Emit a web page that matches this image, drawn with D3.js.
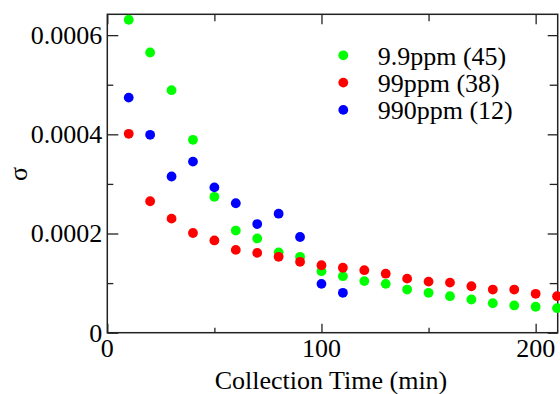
<!DOCTYPE html>
<html>
<head>
<meta charset="utf-8">
<script src="https://cdn.jsdelivr.net/npm/d3@7"></script>
</head>
<body style="margin:0">
<script>
// collection times (min)
const times = [10, 20, 30, 40, 50, 60, 70, 80, 90, 100, 110, 120, 130, 140, 150, 160, 170, 180, 190, 200, 210];

// sigma values
const sigma99ppb = [0.000631, 0.000565, 0.000489, 0.000389, 0.000274, 0.000206, 0.000190, 0.000162, 0.000153, 0.000124,
  0.000114, 0.000104, 0.0000985, 0.0000870, 0.0000804, 0.0000736, 0.0000669, 0.0000595, 0.0000549, 0.0000523, 0.0000494];
const sigma99 = [0.000401, 0.000265, 0.000230, 0.000201, 0.000186, 0.000167, 0.000161, 0.000153, 0.000143, 0.000136,
  0.000131, 0.000126, 0.000119, 0.000109, 0.000103, 0.000101, 0.0000937, 0.0000870, 0.0000870, 0.0000784, 0.0000736];
const sigma990 = [0.000474, 0.000399, 0.000315, 0.000345, 0.000293, 0.000261, 0.000219, 0.000240, 0.000193, 0.0000985, 0.0000804];

const seriesNames = ["9.9ppm (45)", "99ppm (38)", "990ppm (12)"];
const seriesColors = ["#00ff00", "#ff0000", "#0000ff"];

const yMajor = [0, 0.0002, 0.0004, 0.0006];
const yMinor = [0.0001, 0.0003, 0.0005];
const xMajor = [0, 100, 200];
const xMinor = [50, 150];

(function() {
  let width = 560;
  let height = 394;
  let plotL = 107.3, plotR = 557.7, plotT = 14.3, plotB = 332.7;
  let serif = '"Times New Roman"';

  let svg = d3.select('body').append('svg')
    .attr('width', width)
    .attr('height', height)
    .style('font-family', serif);

  let xScale = d3.scaleLinear().domain([0, 210.3]).range([plotL, plotR]);
  let yScale = d3.scaleLinear().domain([0, 0.000642]).range([plotB, plotT]);

  // plain text labels, not inside any axis group
  function label(x, y, str, anchor) {
    return svg.append('text')
      .attr('x', x)
      .attr('y', y)
      .style('font-family', serif)
      .style('font-size', '26px')
      .style('text-anchor', anchor)
      .text(str);
  }

  // ticks on all four sides, pointing inward
  function addTicks(axis, tx, ty) {
    let g = svg.append('g')
      .attr('transform', 'translate(' + tx + ',' + ty + ')')
      .call(axis.tickFormat(''));
    g.select('.domain').remove();
    g.selectAll('text').remove();
    g.selectAll('line').attr('stroke', '#222').attr('stroke-width', 1.3);
  }

  addTicks(d3.axisLeft(yScale).tickValues(yMajor).tickSize(-11), plotL, 0);
  addTicks(d3.axisLeft(yScale).tickValues(yMinor).tickSize(-6), plotL, 0);
  addTicks(d3.axisRight(yScale).tickValues(yMajor).tickSize(-10), plotR, 0);
  addTicks(d3.axisRight(yScale).tickValues(yMinor).tickSize(-8), plotR, 0);
  addTicks(d3.axisBottom(xScale).tickValues(xMajor).tickSize(-9), 0, plotB);
  addTicks(d3.axisBottom(xScale).tickValues(xMinor).tickSize(-5), 0, plotB);
  addTicks(d3.axisTop(xScale).tickValues(xMajor).tickSize(-10), 0, plotT);
  addTicks(d3.axisTop(xScale).tickValues(xMinor).tickSize(-7), 0, plotT);

  // tick labels, placed from the scales
  yMajor.forEach((v) => label(plotL - 5, yScale(v) + 8.8, v === 0 ? "0" : v.toFixed(4), 'end'));
  xMajor.forEach((v) => label(xScale(v), plotB + 24, String(v), 'middle'));

  // frame
  svg.append('rect')
    .attr('x', plotL)
    .attr('y', plotT)
    .attr('width', plotR - plotL)
    .attr('height', plotB - plotT)
    .attr('fill', 'none')
    .attr('stroke', '#222')
    .attr('stroke-width', 1.5);

  // points, green first so red and blue sit on top
  [sigma99ppb, sigma99, sigma990].forEach((vals, i) => {
    svg.append('g').selectAll('circle')
      .data(vals)
      .enter()
      .append('circle')
        .attr('cx', (d, j) => xScale(times[j]))
        .attr('cy', (d) => yScale(d))
        .attr('r', 4.9)
        .attr('fill', seriesColors[i]);
  });

  // legend
  seriesNames.forEach((name, i) => {
    let ly = 55.3 + i * 27.3;
    svg.append('circle')
      .attr('cx', 343.3)
      .attr('cy', ly)
      .attr('r', 4.9)
      .attr('fill', seriesColors[i]);
    label(377.7, ly + 9.5, name, 'start');
  });

  // axis titles
  label(331, 388.5, 'Collection Time (min)', 'middle');
  label(0, 0, '\u03c3', 'middle').attr('transform', 'translate(27,174) rotate(-90)');
})();
</script>
</body>
</html>
